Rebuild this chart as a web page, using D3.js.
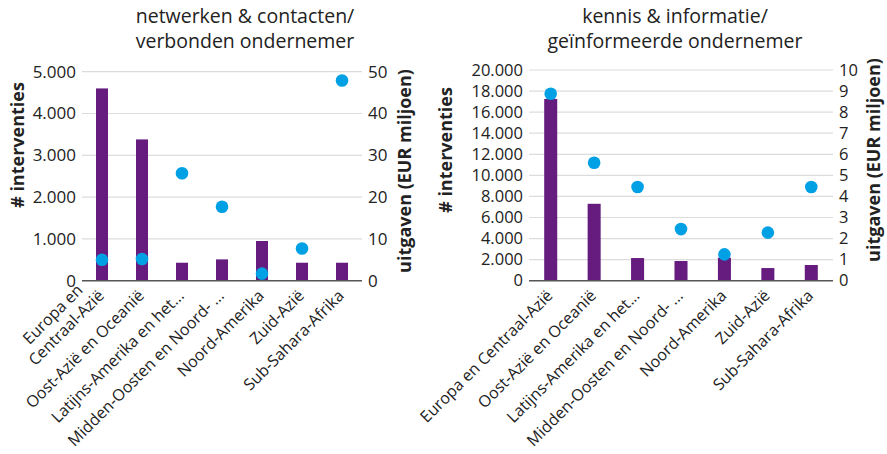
<!DOCTYPE html>
<html><head><meta charset="utf-8">
<script src="https://cdn.jsdelivr.net/npm/d3@7"></script>
<style>
body{margin:0;background:#fff;}
text{font-family:"Open Sans","Noto Sans",sans-serif;fill:#222;}
</style></head>
<body><svg id="c" width="887" height="454"></svg>
<script>
const categories = [["Europa en","Centraal-Azië"],["Oost-Azië en Oceanië"],["Latijns-Amerika en het..."],["Midden-Oosten en Noord- ..."],["Noord-Amerika"],["Zuid-Azië"],["Sub-Sahara-Afrika"]];
const categories2 = [["Europa en Centraal-Azië"],["Oost-Azië en Oceanië"],["Latijns-Amerika en het..."],["Midden-Oosten en Noord- ..."],["Noord-Amerika"],["Zuid-Azië"],["Sub-Sahara-Afrika"]];
const netwerkInterventies = [4600, 3380, 430, 510, 950, 430, 430];
const netwerkUitgaven = [5.0, 5.2, 25.7, 17.7, 1.7, 7.7, 47.9];
const kennisInterventies = [17250, 7300, 2150, 1870, 2180, 1200, 1490];
const kennisUitgaven = [8.87, 5.6, 4.45, 2.45, 1.25, 2.28, 4.45];
const leftTicks1 = [0,1000,2000,3000,4000,5000];
const rightTicks1 = [0,10,20,30,40,50];
const leftTicks2 = [0,2000,4000,6000,8000,10000,12000,14000,16000,18000,20000];
const rightTicks2 = [0,1,2,3,4,5,6,7,8,9,10];
const titles = [["netwerken & contacten/","verbonden ondernemer"],["kennis & informatie/","geïnformeerde ondernemer"]];

const svg = d3.select("#c");
const fmt = v => d3.format(",")(v).replace(/,/g,".");
const BAR="#661c7e", DOT="#00a0e4";

function panel(o){
  const g = svg.append("g");
  const x = d3.scaleBand().domain(d3.range(o.cats.length)).range([o.x0,o.x1]).paddingInner(0.7).paddingOuter(0.35);
  const yL = d3.scaleLinear().domain([0,o.lmax]).range([o.yb,o.yt]);
  const yR = d3.scaleLinear().domain([0,o.rmax]).range([o.yb,o.yt]);
  g.append("g").selectAll("line").data(o.lt.filter(d=>d>0)).join("line")
    .attr("x1",o.x0).attr("x2",o.x1).attr("y1",d=>yL(d)).attr("y2",d=>yL(d))
    .attr("stroke","#dcdcdc").attr("stroke-width",1.2);
  const la = g.append("g").attr("transform",`translate(${o.x0-6},0)`)
    .call(d3.axisLeft(yL).tickValues(o.lt).tickFormat(fmt).tickSize(0).tickPadding(0));
  la.select(".domain").remove();
  la.selectAll("text").attr("font-size",o.tfs).attr("fill","#222");
  const ra = g.append("g").attr("transform",`translate(${o.x1+6},0)`)
    .call(d3.axisRight(yR).tickValues(o.rt).tickSize(0).tickPadding(0));
  ra.select(".domain").remove();
  ra.selectAll("text").attr("font-size",o.tfs).attr("fill","#222");
  g.append("g").selectAll("rect").data(o.bars).join("rect")
    .attr("x",(d,i)=>x(i)).attr("width",x.bandwidth())
    .attr("y",d=>yL(d)).attr("height",d=>o.yb-yL(d)).attr("fill",BAR);
  g.append("line").attr("x1",o.x0).attr("x2",o.x1).attr("y1",o.yb).attr("y2",o.yb)
    .attr("stroke","#555").attr("stroke-width",1.6);
  g.append("g").selectAll("circle").data(o.dots).join("circle")
    .attr("cx",(d,i)=>x(i)+x.bandwidth()/2).attr("cy",d=>yR(d)).attr("r",6.3).attr("fill",DOT);
  o.cats.forEach((lines,i)=>{
    const cx = x(i)+x.bandwidth()/2;
    const t = g.append("g").attr("transform",`translate(${cx+3},${o.yb+16}) rotate(-45)`);
    const n = lines.length;
    const texts = lines.map((l,k)=>t.append("text").attr("font-size",16).attr("text-anchor","end")
      .attr("y",(k-(n-1))*19).text(l));
    if(n>1){
      const w = texts.map(s=>s.node().getComputedTextLength());
      const mw = d3.max(w);
      texts.forEach((s,k)=>s.attr("x",-(mw-w[k])/2));
    }
  });
  g.append("text").attr("transform",`translate(${o.ltx},${o.lty}) rotate(-90)`)
    .attr("text-anchor","middle").attr("font-size",18).attr("font-weight","bold").text("# interventies");
  g.append("text").attr("transform",`translate(${o.rtx},${o.rty}) rotate(-90)`)
    .attr("text-anchor","middle").attr("font-size",18).attr("font-weight","bold").text("uitgaven (EUR miljoen)");
  o.title.forEach((l,k)=>g.append("text").attr("x",o.tx).attr("y",23+k*25)
    .attr("text-anchor","middle").attr("font-size",19.5).text(l));
}

panel({cats:categories,bars:netwerkInterventies,dots:netwerkUitgaven,x0:82,x1:362,yt:71.7,yb:280.7,tfs:17,
  lmax:5000,rmax:50,lt:leftTicks1,rt:rightTicks1,ltx:24,lty:145,rtx:411,rty:171,tx:245,title:titles[0]});
panel({cats:categories2,bars:kennisInterventies,dots:kennisUitgaven,x0:529,x1:833,yt:70,yb:280.7,tfs:16.5,
  lmax:20000,rmax:10,lt:leftTicks2,rt:rightTicks2,ltx:452,lty:150,rtx:880,rty:160,tx:675,title:titles[1]});
</script></body></html>
